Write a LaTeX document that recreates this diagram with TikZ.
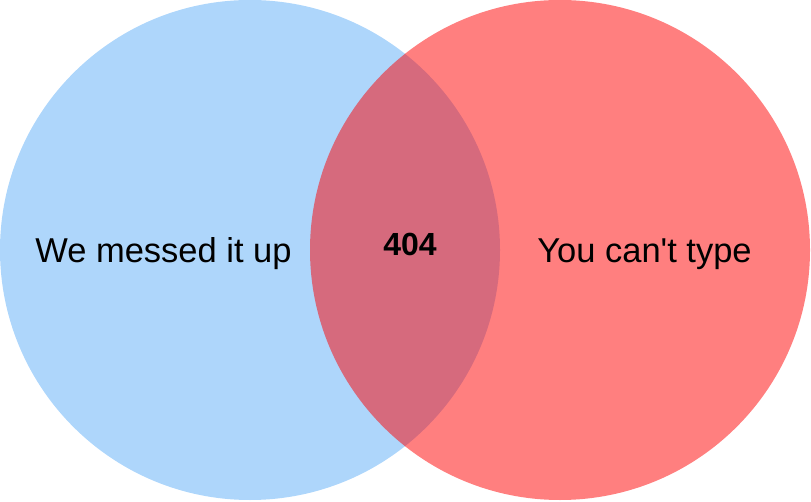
\documentclass[tikz,border=0pt]{standalone}
\usepackage{fontspec}
\setmainfont{Liberation Sans}
\definecolor{setblue}{RGB}{174,214,251}
\begin{document}
\begin{tikzpicture}[x=1pt,y=1pt,
	setA/.style={fill=setblue},
	setB/.style={fill=red,fill opacity=0.5},
	lbl/.style={anchor=base,inner sep=0pt,font=\fontsize{34.5}{40}\selectfont}]
	\useasboundingbox (0,0) rectangle (811,501);
	\fill[setA] (250,251) circle (250);
	\fill[setB] (560,251) circle (250);
	\node[lbl] (weerr) at (163.5,238) {We messed it up};
	\node[lbl] (youerr) at (644.5,238) {You can\textquotesingle t type};
	\node[lbl,font=\fontsize{32}{38}\selectfont\bfseries] (both) at (410,245) {404};
\end{tikzpicture}
\end{document}
